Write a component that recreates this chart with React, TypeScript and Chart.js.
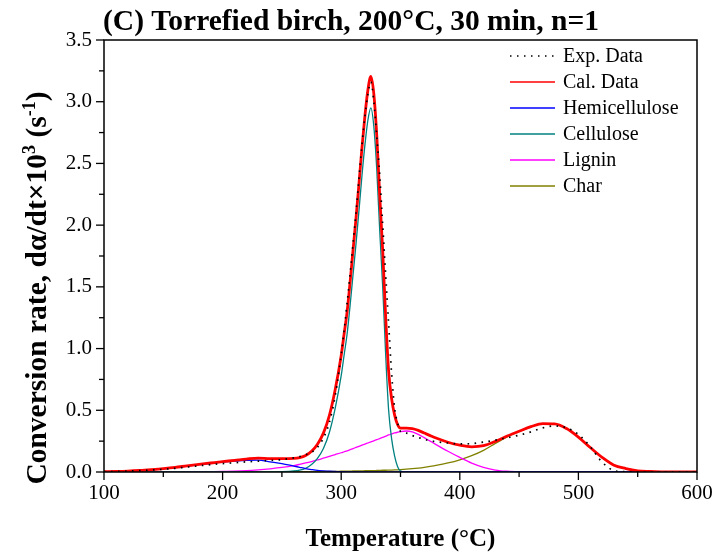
import React, { useEffect, useRef } from "react";
import { Chart, registerables } from "chart.js";

Chart.register(...registerables);

const TEMPS = [100,110,120,130,140,150,160,170,180,190,200,210,220,230,240,250,260,265,270,275,280,285,290,295,300,302.5,305,307.5,310,312.5,315,317.5,320,322.5,325,327.5,330,332.5,335,337.5,340,342.5,345,347.5,350,355,360,365,370,375,380,390,400,410,420,430,440,450,460,470,480,490,500,510,520,530,540,550,560,570,580,590,600];

const EXP = [0.002,0.004,0.007,0.011,0.016,0.022,0.03,0.04,0.05,0.06,0.068,0.075,0.082,0.088,0.094,0.1,0.115,0.125,0.14,0.16,0.2,0.275,0.4,0.62,0.95,1.15,1.37,1.6,1.85,2.1,2.38,2.65,2.88,3.06,3.16,3.0,2.72,2.4,2.0,1.6,1.2,0.8,0.52,0.4,0.33,0.315,0.295,0.28,0.265,0.254,0.245,0.235,0.228,0.23,0.243,0.258,0.278,0.298,0.325,0.358,0.373,0.358,0.305,0.205,0.08,0.012,0.002,0,0,0,0,0,0];

const CAL = [0.002,0.004,0.007,0.012,0.019,0.027,0.037,0.05,0.062,0.073,0.084,0.094,0.105,0.113,0.108,0.108,0.11,0.117,0.134,0.168,0.225,0.315,0.457,0.67,0.944,1.122,1.3,1.539,1.799,2.057,2.337,2.626,2.886,3.095,3.205,3.064,2.724,2.234,1.794,1.254,0.815,0.594,0.463,0.385,0.355,0.355,0.352,0.337,0.316,0.295,0.275,0.241,0.217,0.204,0.213,0.248,0.291,0.33,0.367,0.392,0.39,0.352,0.283,0.198,0.118,0.055,0.028,0.01,0.004,0.001,0,0,0];

const HEMI = [0.002,0.004,0.007,0.012,0.018,0.026,0.036,0.048,0.06,0.07,0.08,0.088,0.095,0.096,0.082,0.068,0.048,0.038,0.028,0.02,0.013,0.009,0.006,0.004,0.002,0.002,0.001,0.001,0.001,0,0,0,0,0,0,0,0,0,0,0,0,0,0,0,0,0,0,0,0,0,0,0,0,0,0,0,0,0,0,0,0,0,0,0,0,0,0,0,0,0,0,0,0];

const CELL = [0,0,0,0,0,0,0,0,0,0,0,0,0,0,0,0.002,0.008,0.015,0.03,0.06,0.11,0.19,0.32,0.52,0.78,0.95,1.12,1.35,1.6,1.85,2.12,2.4,2.65,2.85,2.95,2.8,2.45,1.95,1.5,0.95,0.5,0.27,0.13,0.045,0.008,0,0,0,0,0,0,0,0,0,0,0,0,0,0,0,0,0,0,0,0,0,0,0,0,0,0,0,0];

const LIG = [0,0,0,0,0.001,0.001,0.001,0.002,0.002,0.003,0.004,0.006,0.01,0.017,0.026,0.037,0.052,0.062,0.073,0.085,0.098,0.112,0.126,0.141,0.156,0.164,0.172,0.181,0.19,0.199,0.208,0.217,0.226,0.235,0.244,0.253,0.262,0.271,0.28,0.29,0.3,0.308,0.316,0.322,0.327,0.332,0.325,0.305,0.278,0.25,0.222,0.168,0.118,0.072,0.038,0.016,0.006,0.002,0.001,0,0,0,0,0,0,0,0,0,0,0,0,0,0];

const CHAR = [0,0,0,0,0,0,0,0,0,0,0,0,0,0,0,0.001,0.002,0.002,0.003,0.003,0.004,0.004,0.005,0.005,0.006,0.006,0.007,0.007,0.008,0.008,0.009,0.009,0.01,0.01,0.011,0.011,0.012,0.013,0.014,0.014,0.015,0.016,0.017,0.018,0.02,0.023,0.027,0.032,0.038,0.045,0.053,0.073,0.099,0.132,0.175,0.232,0.285,0.328,0.366,0.392,0.39,0.352,0.283,0.198,0.118,0.055,0.028,0.01,0.004,0.001,0,0,0];

const SERIES_NAMES = ["Exp. Data", "Cal. Data", "Hemicellulose", "Cellulose", "Lignin", "Char"];
const SERIES_COLORS = ["#000000", "#ff0000", "#0000ff", "#008080", "#ff00ff", "#808000"];

const TITLE = "(C) Torrefied birch, 200\u00B0C, 30 min, n=1";
const X_TITLE = "Temperature (\u00B0C)";
const X_TICKS = [100, 200, 300, 400, 500, 600];
const Y_TICKS = [0, 0.5, 1.0, 1.5, 2.0, 2.5, 3.0, 3.5];

const SERIF = "'Liberation Serif', 'Times New Roman', serif";

function pts(vals: number[]) {
  return TEMPS.map((t, i) => ({ x: t, y: vals[i] }));
}

const decorPlugin = {
  id: "decor",
  afterDraw(chart: any) {
    const ctx = chart.ctx as CanvasRenderingContext2D;
    const area = chart.chartArea;
    const xs = chart.scales.x;
    const ys = chart.scales.y;
    ctx.save();
    ctx.strokeStyle = "#000";
    ctx.lineWidth = 1.5;
    ctx.strokeRect(area.left, area.top, area.right - area.left, area.bottom - area.top);
    ctx.lineWidth = 1.3;
    for (let v = X_TICKS[0]; v <= X_TICKS[X_TICKS.length - 1] + 0.001; v += 50) {
      const px = xs.getPixelForValue(v);
      const major = Math.abs(v % 100) < 0.001;
      const len = major ? 8 : 5;
      ctx.beginPath();
      ctx.moveTo(px, area.bottom);
      ctx.lineTo(px, area.bottom + len);
      ctx.stroke();
    }
    for (let v = 0; v <= 3.5 + 0.001; v += 0.25) {
      const py = ys.getPixelForValue(v);
      const major = Math.abs((v * 2) % 1) < 0.001;
      const len = major ? 8 : 5;
      ctx.beginPath();
      ctx.moveTo(area.left, py);
      ctx.lineTo(area.left - len, py);
      ctx.stroke();
    }
    // title
    ctx.fillStyle = "#000";
    ctx.font = `bold 29.5px ${SERIF}`;
    ctx.textAlign = "left";
    ctx.textBaseline = "alphabetic";
    ctx.fillText(TITLE, 103, 30);
    // x title
    ctx.font = `bold 25px ${SERIF}`;
    ctx.textAlign = "center";
    ctx.fillText(X_TITLE, (area.left + area.right) / 2, 546);
    // y title with superscripts
    const segs: [string, boolean][] = [
      ["Conversion rate, d\u03B1/dt\u00D710", false],
      ["3", true],
      [" (s", false],
      ["-1", true],
      [")", false],
    ];
    const base = `bold 29.5px ${SERIF}`;
    const sup = `bold 18px ${SERIF}`;
    let total = 0;
    for (const [s, isSup] of segs) {
      ctx.font = isSup ? sup : base;
      total += ctx.measureText(s).width;
    }
    ctx.translate(46, 288);
    ctx.rotate(-Math.PI / 2);
    ctx.textAlign = "left";
    let cx = -total / 2;
    for (const [s, isSup] of segs) {
      ctx.font = isSup ? sup : base;
      ctx.fillText(s, cx, isSup ? -11 : 0);
      cx += ctx.measureText(s).width;
    }
    ctx.setTransform(1, 0, 0, 1, 0, 0);
    // legend
    ctx.font = `20px ${SERIF}`;
    ctx.textAlign = "left";
    ctx.textBaseline = "middle";
    const ds = chart.data.datasets;
    for (let i = 0; i < ds.length; i++) {
      const y = 56 + i * 26;
      ctx.save();
      ctx.strokeStyle = ds[i].borderColor;
      ctx.lineWidth = i === 0 ? 1.6 : 1.5;
      if (i === 0) ctx.setLineDash([1.5, 5.5]);
      ctx.beginPath();
      ctx.moveTo(510, y);
      ctx.lineTo(555, y);
      ctx.stroke();
      ctx.restore();
      ctx.fillStyle = "#000";
      ctx.fillText(ds[i].label, 563, y + 1);
    }
    ctx.restore();
  },
};

export default function App() {
  const ref = useRef<HTMLCanvasElement | null>(null);
  useEffect(() => {
    if (!ref.current) return;
    const all = [EXP, CAL, HEMI, CELL, LIG, CHAR];
    const chart = new Chart(ref.current, {
      type: "line",
      data: {
        datasets: all.map((vals, i) => ({
          label: SERIES_NAMES[i],
          data: pts(vals),
          borderColor: SERIES_COLORS[i],
          backgroundColor: SERIES_COLORS[i],
          borderWidth: i === 0 ? 1.7 : i === 1 ? 2.8 : 1.3,
          borderDash: i === 0 ? [1.6, 5.4] : [],
          pointRadius: 0,
          fill: false,
          cubicInterpolationMode: "monotone" as const,
        })),
      },
      options: {
        animation: false,
        responsive: false,
        devicePixelRatio: 1,
        layout: { padding: { top: 40, right: 20, left: 0, bottom: 0 } },
        plugins: { legend: { display: false }, title: { display: false }, tooltip: { enabled: false } },
        scales: {
          x: {
            type: "linear",
            min: 100,
            max: 600,
            afterBuildTicks: (s: any) => { s.ticks = X_TICKS.map((v) => ({ value: v })); },
            ticks: { color: "#000", font: { family: SERIF, size: 21 }, padding: 9, maxRotation: 0, autoSkip: false },
            grid: { display: false, drawTicks: false },
            border: { display: false },
            afterFit: (s: any) => { s.height = 84; s.paddingLeft = 0; s.paddingRight = 0; },
          },
          y: {
            type: "linear",
            min: 0,
            max: 3.5,
            afterBuildTicks: (s: any) => { s.ticks = Y_TICKS.map((v) => ({ value: v })); },
            ticks: { color: "#000", font: { family: SERIF, size: 21 }, padding: 12, callback: (v: any) => Number(v).toFixed(1) },
            grid: { display: false, drawTicks: false },
            border: { display: false },
            afterFit: (s: any) => { s.width = 104; s.paddingTop = 0; s.paddingBottom = 0; },
          },
        },
      },
      plugins: [decorPlugin],
    });
    return () => chart.destroy();
  }, []);
  return (
    <div style={{ position: "fixed", left: 0, top: 0, width: 717, height: 556, background: "#fff" }}>
      <canvas ref={ref} width={717} height={556} style={{ width: 717, height: 556 }} />
    </div>
  );
}
